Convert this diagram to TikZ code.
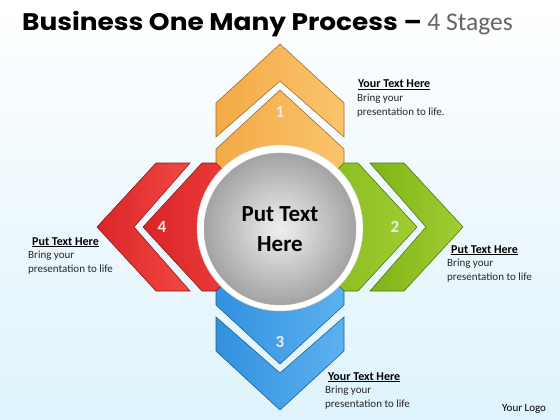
\documentclass[tikz,border=0pt]{standalone}
\usepackage{fontspec}
\setmainfont{Carlito}
\newfontfamily\titlefont{Poppins}[FakeStretch=1.1]
\usepackage{tikz}

\definecolor{bgblue}{RGB}{222,243,252}
\definecolor{orangeA}{RGB}{250,196,108}
\definecolor{orangeB}{RGB}{243,170,70}
\definecolor{redA}{RGB}{240,74,68}
\definecolor{redB}{RGB}{220,36,38}
\definecolor{greenA}{RGB}{160,206,50}
\definecolor{greenB}{RGB}{126,180,22}
\definecolor{blueA}{RGB}{92,178,240}
\definecolor{blueB}{RGB}{50,144,222}
\definecolor{titlegrey}{RGB}{100,100,100}

\begin{document}
\begin{tikzpicture}[x=1pt,y=-1pt,
   chev/.style 2 args={draw=#2!65!black, line width=.6pt, line join=miter, left color=#2, right color=#1},
   stepnum/.style={inner sep=0, text=white!92!black, font=\bfseries\fontsize{17}{17}\selectfont},
   headtxt/.style={inner sep=0, anchor=base west, font=\bfseries\fontsize{12}{14}\selectfont},
   bodytxt/.style={inner sep=0, anchor=north west, align=left, font=\fontsize{11}{14}\selectfont, text=black!85}]

   % background
   \shade[top color=white, middle color=bgblue!40!white, bottom color=bgblue] (0,0) rectangle (560,420);

   \node (title) [anchor=base west, inner sep=0] at (22,31)
      {\titlefont\bfseries\fontsize{24}{26}\selectfont Business One Many Process – {\mdseries\rmfamily\fontsize{25.5}{26}\selectfont\color{titlegrey}4 Stages}};

   % stage 1 (top)
   \begin{scope}[shift={(280,227)}, rotate=90]
   \draw[chev={orangeA}{orangeB}] (124,-64) -- (183,0) -- (124,64) -- (90,64) -- (146,0) -- (90,-64) -- cycle;
   \draw[chev={orangeA}{orangeB}] (78,-64) -- (137,0) -- (78,64) -- (64,64) -- (0,0) -- (64,-64) -- cycle;
   \node (n1) [stepnum] at (115,0) {1};
   \end{scope}

   % stage 2 (right)
   \begin{scope}[shift={(280,227)}, rotate=0]
   \draw[chev={greenA}{greenB}] (124,-64) -- (183,0) -- (124,64) -- (90,64) -- (146,0) -- (90,-64) -- cycle;
   \draw[chev={greenA}{greenB}] (78,-64) -- (137,0) -- (78,64) -- (64,64) -- (0,0) -- (64,-64) -- cycle;
   \node (n2) [stepnum] at (115,0) {2};
   \end{scope}

   % stage 3 (bottom)
   \begin{scope}[shift={(280,227)}, rotate=270]
   \draw[chev={blueA}{blueB}] (124,-64) -- (183,0) -- (124,64) -- (90,64) -- (146,0) -- (90,-64) -- cycle;
   \draw[chev={blueA}{blueB}] (78,-64) -- (137,0) -- (78,64) -- (64,64) -- (0,0) -- (64,-64) -- cycle;
   \node (n3) [stepnum] at (115,0) {3};
   \end{scope}

   % stage 4 (left)
   \begin{scope}[shift={(280,227)}, rotate=180]
   \draw[chev={redA}{redB}] (124,-64) -- (183,0) -- (124,64) -- (90,64) -- (146,0) -- (90,-64) -- cycle;
   \draw[chev={redA}{redB}] (78,-64) -- (137,0) -- (78,64) -- (64,64) -- (0,0) -- (64,-64) -- cycle;
   \node (n4) [stepnum] at (118,0) {4};
   \end{scope}

   % hub
   \node (ring) [circle, fill=white, draw=gray!40, minimum size=166pt, inner sep=0] at (280,228) {};
   \node (hub) [circle, draw=gray!65, shading=radial, inner color=gray!12, outer color=gray!72, minimum size=152pt, inner sep=0, align=center,
      font=\bfseries\fontsize{23}{30}\selectfont] at (280,229) {Put Text\\Here};

   % texts
   \node (h1) [headtxt] at (358,88) {\underline{Your Text Here}};
   \node (b1) [bodytxt] at (357,94) {Bring your\\presentation to life.};
   \node (h2) [headtxt] at (451,253) {\underline{Put Text Here}};
   \node (b2) [bodytxt] at (447,259) {Bring your\\presentation to life};
   \node (h3) [headtxt] at (328,380) {\underline{Your Text Here}};
   \node (b3) [bodytxt] at (325,386) {Bring your\\presentation to life};
   \node (h4) [headtxt] at (32,245) {\underline{Put Text Here}};
   \node (b4) [bodytxt] at (28,251) {Bring your\\presentation to life};
   \node (logo) [inner sep=0, anchor=base west, font=\fontsize{11}{13}\selectfont] at (502,411) {Your Logo};
\end{tikzpicture}
\end{document}
